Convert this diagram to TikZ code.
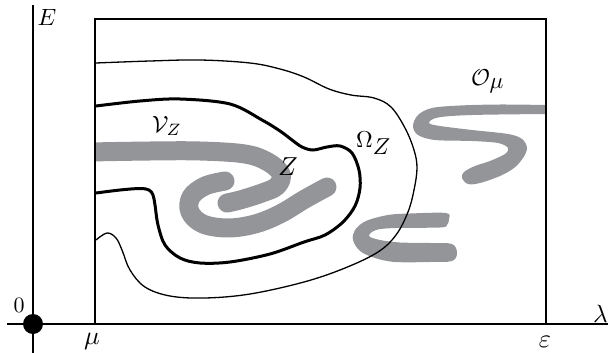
\RequirePackage{fix-cm}
\documentclass[tikz,border=0pt]{standalone}
\usepackage{graphicx}
\definecolor{shade}{RGB}{147,149,152}
\newcommand{\Lb}[2]{\scalebox{#1}{#2}}
\begin{document}
\begin{tikzpicture}[x=1pt,y=-1pt,
  lbl/.style={inner sep=0pt},
  band/.style={draw=shade, line width=19pt, line cap=round, line join=round},
  blob/.style={fill=shade},
  thincurve/.style={draw=black, line width=1.3pt},
  thickcurve/.style={draw=black, line width=3pt},
  frame/.style={draw=black, line width=2pt},
  axis/.style={draw=black, line width=1.4pt}]
\useasboundingbox (0,0) rectangle (608,353);
% gray bands
\begin{scope}
\clip (96,0) rectangle (608,353);
\draw[band] plot[smooth, tension=0.6] coordinates {(90,152) (150,151) (200,151) (245,154) (268,162) (281,174) (277,186) (262,193) (240,200) (227,203)};
\draw[band] plot[smooth, tension=0.6] coordinates {(225,181) (205,186) (191,197) (190,212) (203,224) (228,228) (255,224) (280,214) (305,199) (327,187)};
\end{scope}
\fill[blob] plot[smooth, tension=0.55] coordinates {(546,105) (500,104.5) (460,105.5) (432,108) (418,115) (413,126) (418,135) (435,140) (472,141) (498,143) (508,148) (505,154) (490,161) (475,166) (464,172) (462,178) (468,184) (480,183) (500,176) (514,168) (523,158) (527,148) (522,139) (508,134) (472,130) (440,126) (429,123) (438,117.5) (472,115) (546,114)} -- cycle;
\fill[blob] plot[smooth cycle, tension=0.55] coordinates {(446,213) (410,213.5) (388,215) (366,221) (355,230) (353,240) (360,251) (375,258) (395,262) (430,262) (452,261) (457,253) (452,244) (430,243) (400,242.5) (380,240) (369,236) (376,230) (395,228) (440,227.5) (447,225) (449,219)};
% outer thin curve
\draw[thincurve] plot[smooth, tension=0.6] coordinates {(96,63) (150,61) (200,60) (250,63) (280,69) (304,77) (329,89) (351,95) (374,98) (391,107) (405,128) (414,150) (417,168) (414,190) (408,212) (396,235) (378,252) (345,268) (304,282) (250,294) (205,298) (170,296) (145,287) (130,270) (122,250) (116,238) (107,233) (96,240)};
% thick curve
\draw[thickcurve] plot[smooth, tension=0.55] coordinates {(96,106) (140,101) (180,99) (230,104) (262,120) (280,131) (292,140) (302,147) (313,150) (327,147) (340,146) (352,153) (359,170) (360,188) (355,206) (343,222) (325,235) (304,242) (270,254) (230,262) (200,263) (180,258) (165,245) (158,225) (155,205) (153,195) (149,190) (140,188.5) (120,190) (96,193)};
% frame and axes
\coordinate (tl) at (95,19);
\coordinate (tr) at (546,19);
\coordinate (bl) at (95,324);
\coordinate (br) at (546,324);
\draw[frame] (bl) -- (tl) -- (tr) -- (br);
\coordinate (ytop) at (33,5);
\coordinate (ybot) at (33,353);
\coordinate (xleft) at (7,324);
\coordinate (xright) at (608,324);
\draw[axis] (ybot) -- (ytop);
\draw[frame] (xleft) -- (xright);
\fill (33,324) circle (10);
% labels
\node[lbl, anchor=base] (E) at (47,26) {\Lb{2.35}{$E$}};
\node[lbl, anchor=base] (zero) at (19,312) {\Lb{2.2}{$0$}};
\node[lbl, anchor=base] (mu) at (92,344) {\Lb{2.6}{$\mu$}};
\node[lbl, anchor=base] (eps) at (545,347) {\Lb{2.6}{$\varepsilon$}};
\node[lbl, anchor=base west] (lam) at (593,322) {\Lb{2.5}{$\lambda$}};
\node[lbl, anchor=base] (Zl) at (288,175) {\Lb{2.6}{$Z$}};
\node[lbl, anchor=base west] (Vz) at (152,132) {\Lb{2.35}{$\mathcal{V}_Z$}};
\node[lbl, anchor=base west] (Om) at (356,147) {\Lb{2.3}{$\Omega_{\textstyle Z}$}};
\node[lbl, anchor=base west] (Omu) at (471,85) {\Lb{2.3}{$\mathcal{O}_{\textstyle\mu}$}};
\end{tikzpicture}
\end{document}
